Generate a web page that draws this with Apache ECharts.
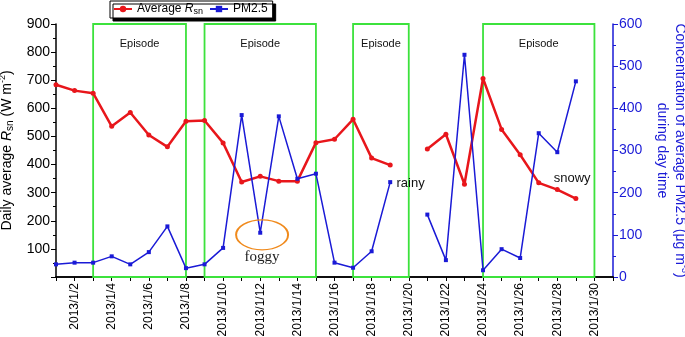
<!DOCTYPE html>
<html>
<head>
<meta charset="utf-8">
<script src="https://cdn.jsdelivr.net/npm/echarts@6/dist/echarts.min.js"></script>
<style>
  html, body { margin: 0; padding: 0; background: #fff; }
  #chart { width: 685px; height: 337px; }
</style>
</head>
<body>
<div id="chart"></div>
<script>
// day of January 2013
var days = [1, 2, 3, 4, 5, 6, 7, 8, 9, 10, 11, 12, 13, 14, 15, 16, 17, 18, 19, 20, 21, 22, 23, 24, 25, 26, 27, 28, 29];
// daily average Rsn (W m-2), left axis
var rsn = [684, 663, 654, 536, 585, 505, 463, 554, 557, 477, 338, 358, 341, 341, 478, 490, 561, 423, 398, null, 455, 508, 330, 706, 525, 435, 335, 311, 279];
// PM2.5 during day time (ug m-3), right axis
var pm25 = [30, 34, 34, 49, 30, 59, 120, 21, 30, 69, 384, 105, 381, 233, 245, 34, 22, 61, 225, null, 148, 40, 527, 16, 66, 45, 341, 296, 464];
// pollution episodes [start day, end day]
var episodes = [[3, 8], [9, 15], [17, 20], [24, 30]];
var tickDays = [];
for (var d = 1; d <= 31; d++) tickDays.push(d);
var labelDays = [2, 4, 6, 8, 10, 12, 14, 16, 18, 20, 22, 24, 26, 28, 30];

var font = 'Arial, "Liberation Sans", sans-serif';
var red = '#e8161b';
var blue = '#1a1ad6';
var green = '#3ce23c';

function pairs(vals) {
  var out = [];
  for (var i = 0; i < days.length; i++) out.push([days[i], vals[i]]);
  return out;
}

var chart = echarts.init(document.getElementById('chart'));

var option = {
  animation: false,
  backgroundColor: '#fff',
  textStyle: { fontFamily: font },
  grid: { left: 56, right: 72, top: 24, bottom: 60, outerBoundsMode: 'none', containLabel: false },
  legend: {
    left: 110,
    top: 1,
    padding: [2, 5, 2, 3],
    itemGap: 6,
    itemWidth: 18,
    itemHeight: 8,
    backgroundColor: '#fff',
    borderColor: '#000',
    borderWidth: 1,
    shadowColor: '#000',
    shadowBlur: 0,
    shadowOffsetX: 3,
    shadowOffsetY: 3,
    data: ['Rsn', 'PM2.5'],
    formatter: function (name) {
      return name === 'Rsn' ? 'Average {i|R}{s|sn}' : name;
    },
    textStyle: {
      fontFamily: font, fontSize: 12, color: '#000',
      rich: {
        i: { fontFamily: font, fontSize: 12, fontStyle: 'italic', color: '#000' },
        s: { fontFamily: font, fontSize: 9, color: '#000', padding: [5, 0, 0, 0] }
      }
    }
  },
  xAxis: [{
    type: 'value',
    min: 1,
    max: 31,
    position: 'bottom',
    splitLine: { show: false },
    axisLine: { lineStyle: { color: '#000', width: 1.5 } },
    axisTick: { customValues: tickDays, length: 4, lineStyle: { color: '#000' } },
    axisLabel: {
      customValues: labelDays,
      rotate: 90,
      fontSize: 12,
      color: '#000',
      margin: 6,
      formatter: function (v) { return '2013/1/' + v; }
    }
  }, {
    type: 'value',
    min: 1,
    max: 31,
    position: 'top',
    splitLine: { show: false },
    axisLine: { lineStyle: { color: '#000', width: 1.5 } },
    axisTick: { customValues: tickDays, inside: true, length: 4, lineStyle: { color: '#000' } },
    axisLabel: { show: false }
  }],
  yAxis: [{
    type: 'value',
    min: 0,
    max: 900,
    interval: 100,
    position: 'left',
    splitLine: { show: false },
    axisLine: { show: true, lineStyle: { color: '#000', width: 1.5 } },
    axisTick: { show: true, length: 5, lineStyle: { color: '#000' } },
    minorTick: { show: true, splitNumber: 2, length: 3, lineStyle: { color: '#000' } },
    axisLabel: {
      fontSize: 14, color: '#000', margin: 6,
      formatter: function (v) { return v === 0 ? '' : v; }
    },
    name: 'Daily average {i|R}{s|sn} (W m{p|-2})',
    nameLocation: 'middle',
    nameRotate: 90,
    nameGap: 33,
    nameTextStyle: {
      fontFamily: font, fontSize: 14, color: '#000',
      rich: {
        i: { fontFamily: font, fontSize: 14, fontStyle: 'italic', color: '#000' },
        s: { fontFamily: font, fontSize: 10, color: '#000', padding: [8, 0, 0, 0] },
        p: { fontFamily: font, fontSize: 9, color: '#000', padding: [0, 0, 8, 0] }
      }
    }
  }, {
    type: 'value',
    min: 0,
    max: 600,
    interval: 100,
    position: 'right',
    splitLine: { show: false },
    axisLine: { show: true, lineStyle: { color: blue, width: 1.5 } },
    axisTick: { show: true, length: 5, lineStyle: { color: blue } },
    minorTick: { show: true, splitNumber: 2, length: 3, lineStyle: { color: blue } },
    axisLabel: { fontSize: 14, color: blue, margin: 6 },
    name: 'Concentration of average PM2.5 (\u03bcg m{p|-3})\nduring day time',
    nameLocation: 'middle',
    nameRotate: -90,
    nameGap: 32,
    nameTextStyle: {
      fontFamily: font, fontSize: 14, color: blue, lineHeight: 18,
      rich: {
        p: { fontFamily: font, fontSize: 9, color: blue, padding: [0, 0, 8, 0] }
      }
    }
  }],
  series: [{
    name: 'Rsn',
    type: 'line',
    xAxisIndex: 0,
    yAxisIndex: 0,
    data: pairs(rsn),
    connectNulls: false,
    symbol: 'circle',
    symbolSize: 5,
    color: red,
    lineStyle: { color: red, width: 2.5 },
    itemStyle: { color: red },
    z: 3,
    markArea: {
      silent: true,
      itemStyle: { color: 'rgba(0,0,0,0)', borderColor: green, borderWidth: 1.8 },
      label: {
        show: true, position: 'insideTop', distance: 15,
        fontFamily: font, fontSize: 11, color: '#111',
        formatter: 'Episode'
      },
      data: episodes.map(function (e) { return [{ xAxis: e[0] }, { xAxis: e[1] }]; })
    }
  }, {
    name: 'PM2.5',
    type: 'line',
    xAxisIndex: 0,
    yAxisIndex: 1,
    data: pairs(pm25),
    connectNulls: false,
    symbol: 'rect',
    symbolSize: 4,
    color: blue,
    lineStyle: { color: blue, width: 1.5 },
    itemStyle: { color: blue },
    z: 4,
    markPoint: {
      silent: true,
      data: [{
        coord: [12.1, 100],
        symbol: 'circle',
        symbolSize: [52, 30],
        itemStyle: { color: 'rgba(0,0,0,0)', borderColor: '#f08a1c', borderWidth: 1.5 },
        label: { show: false }
      }, {
        coord: [12.1, 47],
        symbol: 'circle',
        symbolSize: 0,
        label: { show: true, position: 'inside', formatter: 'foggy', fontFamily: '"Liberation Serif", "DejaVu Serif", serif', fontSize: 15, color: '#222' }
      }, {
        coord: [20.1, 222],
        symbol: 'circle',
        symbolSize: 0,
        label: { show: true, position: 'inside', formatter: 'rainy', fontFamily: font, fontSize: 13, color: '#111' }
      }, {
        coord: [28.8, 233],
        symbol: 'circle',
        symbolSize: 0,
        label: { show: true, position: 'inside', formatter: 'snowy', fontFamily: font, fontSize: 13, color: '#111' }
      }]
    }
  }]
};

chart.setOption(option);
</script>
</body>
</html>
